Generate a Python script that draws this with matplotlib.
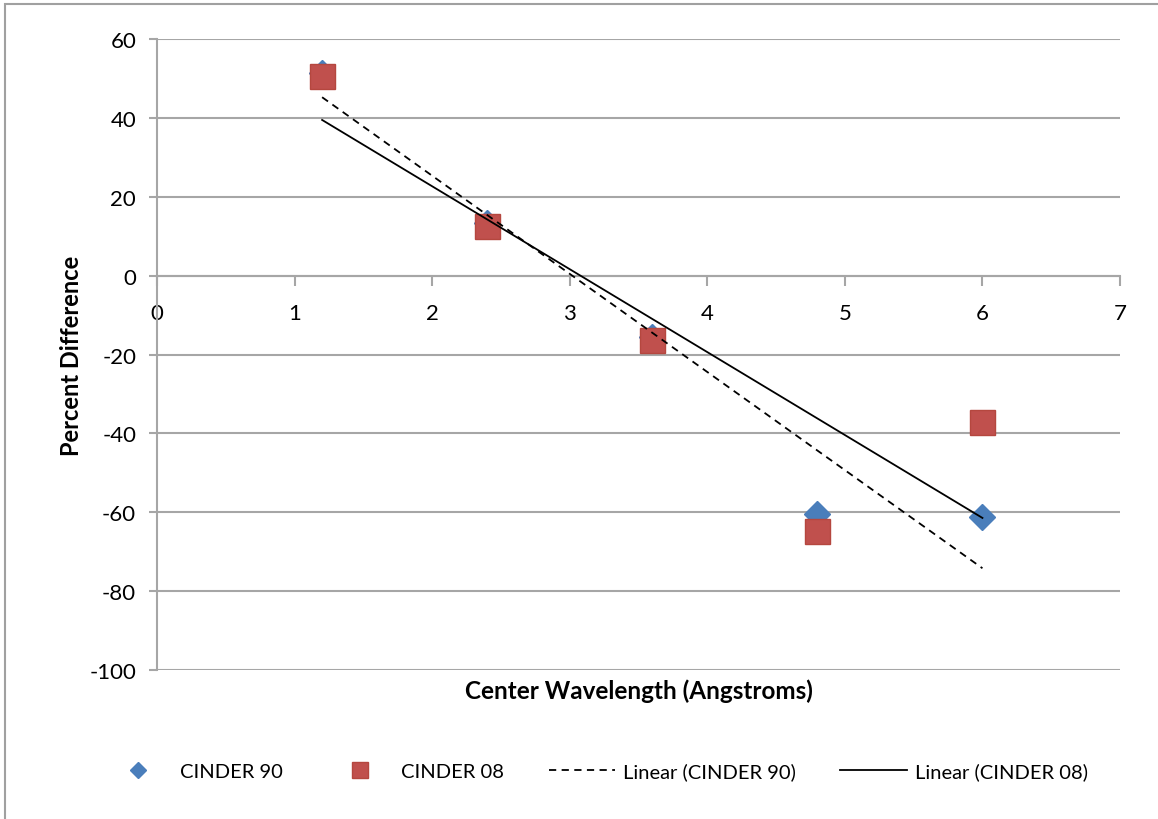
import numpy as np
import matplotlib.pyplot as plt
from matplotlib.patches import Rectangle

plt.rcParams['font.family'] = ['Lato', 'DejaVu Sans']
plt.rcParams['axes.unicode_minus'] = False

wavelength = [1.2, 2.4, 3.6, 4.8, 6.0]
cinder90 = [51.3, 13.4, -15.6, -60.4, -61.1]
cinder08 = [50.5, 12.6, -16.3, -64.7, -37.0]

blue = "#4a7ebb"
red = "#c0504d"
grid_gray = "#a6a6a6"

fig = plt.figure(figsize=(11.58, 8.2), dpi=100)
ax = fig.add_axes([0.1356, 0.1817, 0.8316, 0.7695])

# outer chart frame
fig.patches.append(Rectangle((5 / 1158, -0.05), 1.2, 1.05 - 5 / 820,
                             transform=fig.transFigure, fill=False,
                             edgecolor="#a0a0a0", linewidth=1.5))

x = np.array(wavelength)
ax.plot(wavelength, cinder90, linestyle="none", marker="D", markersize=13,
        color=blue, markeredgecolor=blue, label="CINDER 90", zorder=3)
ax.plot(wavelength, cinder08, linestyle="none", marker="s", markersize=18,
        color=red, markeredgecolor="#b5473f", label="CINDER 08", zorder=4)

# linear trendlines
p90 = np.polyfit(wavelength, cinder90, 1)
p08 = np.polyfit(wavelength, cinder08, 1)
ax.plot(x[[0, -1]], np.polyval(p90, x[[0, -1]]), color="black", lw=1.3,
        linestyle=(0, (4, 3)), label="Linear (CINDER 90)", zorder=5)
ax.plot(x[[0, -1]], np.polyval(p08, x[[0, -1]]), color="black", lw=1.3,
        label="Linear (CINDER 08)", zorder=5)

ax.set_xlim(0, 7)
ax.set_ylim(-100, 60)
ax.set_xticks(range(0, 8))
ax.set_yticks(range(-100, 61, 20))
ax.yaxis.grid(True, color=grid_gray, linewidth=1.5)
ax.set_axisbelow(True)

for side in ["top", "right"]:
    ax.spines[side].set_visible(False)
ax.spines["bottom"].set_position(("data", 0))
ax.spines["bottom"].set_color(grid_gray)
ax.spines["left"].set_color(grid_gray)
ax.spines["bottom"].set_linewidth(1.5)
ax.spines["left"].set_linewidth(1.5)
ax.tick_params(axis="both", colors=grid_gray, labelcolor="black",
               labelsize=16, width=1.5, length=6)
ax.tick_params(axis="y", pad=9)
ax.tick_params(axis="x", length=7, pad=13)

ax.set_xlabel("Center Wavelength (Angstroms)", fontsize=17.5, fontweight="bold")
ax.xaxis.set_label_coords(0.5, -0.013)
ax.set_ylabel("Percent Difference", fontsize=17, fontweight="bold")
ax.yaxis.set_label_coords(-0.077, 0.5)

fig.legend(loc="center", bbox_to_anchor=(0.515, 0.058), ncol=4, frameon=False,
           fontsize=14.5, markerscale=0.65, handlelength=3.3,
           columnspacing=2.2, handletextpad=0.4)

fig.savefig("out.png", dpi=100)
